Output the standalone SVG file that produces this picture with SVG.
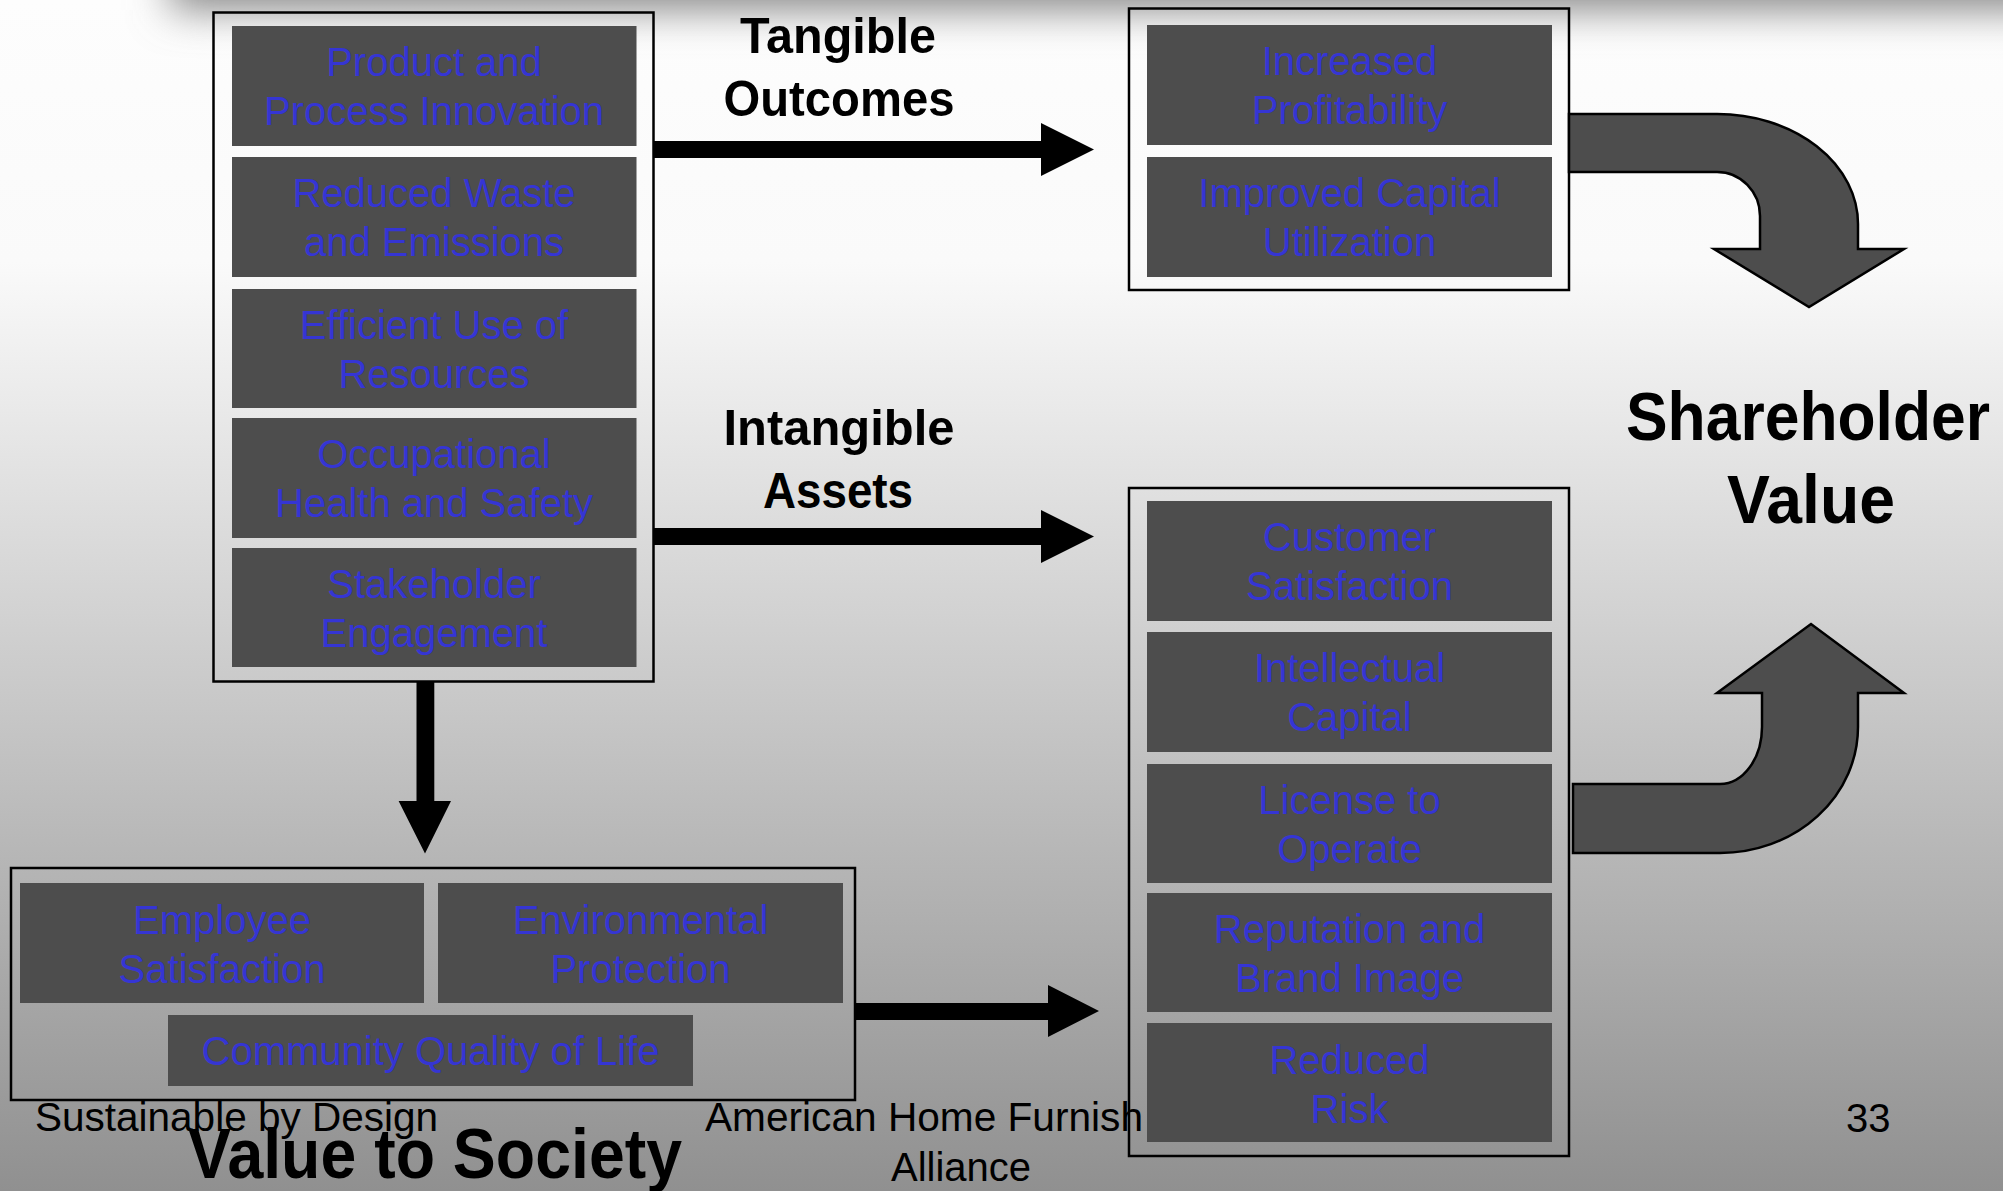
<svg xmlns="http://www.w3.org/2000/svg" width="2003" height="1191" viewBox="0 0 2003 1191">
<defs>
<linearGradient id="bg" x1="0" y1="0" x2="0" y2="1191" gradientUnits="userSpaceOnUse">
<stop offset="0" stop-color="#fdfdfd"/>
<stop offset="0.22" stop-color="#fafafa"/>
<stop offset="1" stop-color="#909090"/>
</linearGradient>
<filter id="blur" x="-20%" y="-100%" width="140%" height="300%">
<feGaussianBlur stdDeviation="20"/>
</filter>
<style>
.outer{fill:none;stroke:#000;stroke-width:2.5}
.cell{fill:#4d4d4d}
.item{font-family:"Liberation Sans",Arial,sans-serif;font-size:40px;fill:#3535d4;text-anchor:middle}
.title{font-family:"Liberation Sans",Arial,sans-serif;font-weight:bold;font-size:50px;fill:#000;text-anchor:middle}
.big{font-size:68px}
.foot{font-family:"Liberation Sans",Arial,sans-serif;font-size:40px;fill:#000}
.arrow{fill:#000}
.bend{fill:#4d4d4d;stroke:#000;stroke-width:2.5;stroke-linejoin:miter}
</style>
</defs>
<rect x="0" y="0" width="2003" height="1191" fill="url(#bg)"/>
<rect x="170" y="-100" width="1950" height="110" fill="#888" filter="url(#blur)"/>

<g id="sources">
<rect class="outer" x="213.5" y="12.5" width="440" height="669"/>
<g id="product-innovation"><rect class="cell" x="232" y="26" width="404.5" height="120"/><text class="item" x="434" y="76">Product and</text><text class="item" x="434" y="125">Process Innovation</text></g>
<g id="reduced-waste"><rect class="cell" x="232" y="157" width="404.5" height="120"/><text class="item" x="434" y="207">Reduced Waste</text><text class="item" x="434" y="256">and Emissions</text></g>
<g id="efficient-use"><rect class="cell" x="232" y="289" width="404.5" height="119"/><text class="item" x="434" y="339">Efficient Use of</text><text class="item" x="434" y="388">Resources</text></g>
<g id="occupational-health"><rect class="cell" x="232" y="418" width="404.5" height="120"/><text class="item" x="434" y="468">Occupational</text><text class="item" x="434" y="517">Health and Safety</text></g>
<g id="stakeholder-engagement"><rect class="cell" x="232" y="548" width="404.5" height="119"/><text class="item" x="434" y="598">Stakeholder</text><text class="item" x="434" y="647">Engagement</text></g>
</g>

<g id="tangible">
<rect class="outer" x="1129" y="8.5" width="440" height="281.5"/>
<g id="increased-profitability"><rect class="cell" x="1147" y="25" width="405" height="120"/><text class="item" x="1349.5" y="75">Increased</text><text class="item" x="1349.5" y="124">Profitability</text></g>
<g id="improved-capital"><rect class="cell" x="1147" y="157" width="405" height="120"/><text class="item" x="1349.5" y="207">Improved Capital</text><text class="item" x="1349.5" y="256">Utilization</text></g>
</g>

<g id="society">
<rect class="outer" x="11" y="868" width="844" height="232"/>
<g id="employee-satisfaction"><rect class="cell" x="20" y="883" width="404" height="120"/><text class="item" x="222" y="934">Employee</text><text class="item" x="222" y="983">Satisfaction</text></g>
<g id="environmental-protection"><rect class="cell" x="438" y="883" width="405" height="120"/><text class="item" x="640.5" y="934">Environmental</text><text class="item" x="640.5" y="983">Protection</text></g>
<g id="community-quality"><rect class="cell" x="168" y="1015" width="525" height="71"/><text class="item" x="430.5" y="1065">Community Quality of Life</text></g>
</g>

<g id="footer">
<text class="foot" x="35" y="1131" textLength="403" lengthAdjust="spacingAndGlyphs">Sustainable by Design</text>
<text class="foot" x="961" y="1181" text-anchor="middle">Alliance</text>
<text class="foot" x="1846" y="1132">33</text>
</g>

<g id="intangible">
<rect class="outer" x="1129" y="488" width="440" height="668"/>
<text class="foot" x="705" y="1131" textLength="438" lengthAdjust="spacingAndGlyphs">American Home Furnish</text>
<g id="customer-satisfaction"><rect class="cell" x="1147" y="501" width="405" height="120"/><text class="item" x="1349.5" y="551">Customer</text><text class="item" x="1349.5" y="600">Satisfaction</text></g>
<g id="intellectual-capital"><rect class="cell" x="1147" y="632" width="405" height="120"/><text class="item" x="1349.5" y="682">Intellectual</text><text class="item" x="1349.5" y="731">Capital</text></g>
<g id="license-operate"><rect class="cell" x="1147" y="764" width="405" height="119"/><text class="item" x="1349.5" y="814">License to</text><text class="item" x="1349.5" y="863">Operate</text></g>
<g id="reputation-brand"><rect class="cell" x="1147" y="893" width="405" height="119"/><text class="item" x="1349.5" y="943">Reputation and</text><text class="item" x="1349.5" y="992">Brand Image</text></g>
<g id="reduced-risk"><rect class="cell" x="1147" y="1023" width="405" height="119"/><text class="item" x="1349.5" y="1074">Reduced</text><text class="item" x="1349.5" y="1123">Risk</text></g>
</g>

<g id="labels">
<text class="title" x="838" y="53" textLength="196" lengthAdjust="spacingAndGlyphs">Tangible</text>
<text class="title" x="839" y="116" textLength="231" lengthAdjust="spacingAndGlyphs">Outcomes</text>
<text class="title" x="839" y="445" textLength="231" lengthAdjust="spacingAndGlyphs">Intangible</text>
<text class="title" x="838" y="508" textLength="150" lengthAdjust="spacingAndGlyphs">Assets</text>
<text class="title big" x="1808" y="440" textLength="364" lengthAdjust="spacingAndGlyphs">Shareholder</text>
<text class="title big" x="1811" y="523" textLength="168" lengthAdjust="spacingAndGlyphs">Value</text>
<text class="title" x="435" y="1178" style="font-size:70px" textLength="494" lengthAdjust="spacingAndGlyphs">Value to Society</text>
</g>

<g id="connectors">
<polygon class="arrow" points="654,141 1041,141 1041,123 1094,149.5 1041,176 1041,158 654,158"/>
<polygon class="arrow" points="654,528 1041,528 1041,510 1094,536.5 1041,563 1041,545 654,545"/>
<polygon class="arrow" points="855,1003 1048,1003 1048,985 1099,1011 1048,1037 1048,1020 855,1020"/>
<polygon class="arrow" points="416.5,682 434.3,682 434.3,801 451,801 425,853.6 398.6,801 416.5,801"/>
<path class="bend" d="M1569,114 H1717 A141,110 0 0 1 1858,224 V249 H1904 L1809,307 L1714,249 H1760 V216 A43,44 0 0 0 1717,172 H1569 Z"/>
<path class="bend" d="M1573,853 H1720 A138,126 0 0 0 1858,727 V693 H1904 L1811,624 L1717,693 H1762 V727 A42,57 0 0 1 1720,784 H1573 Z"/>
</g>
</svg>
